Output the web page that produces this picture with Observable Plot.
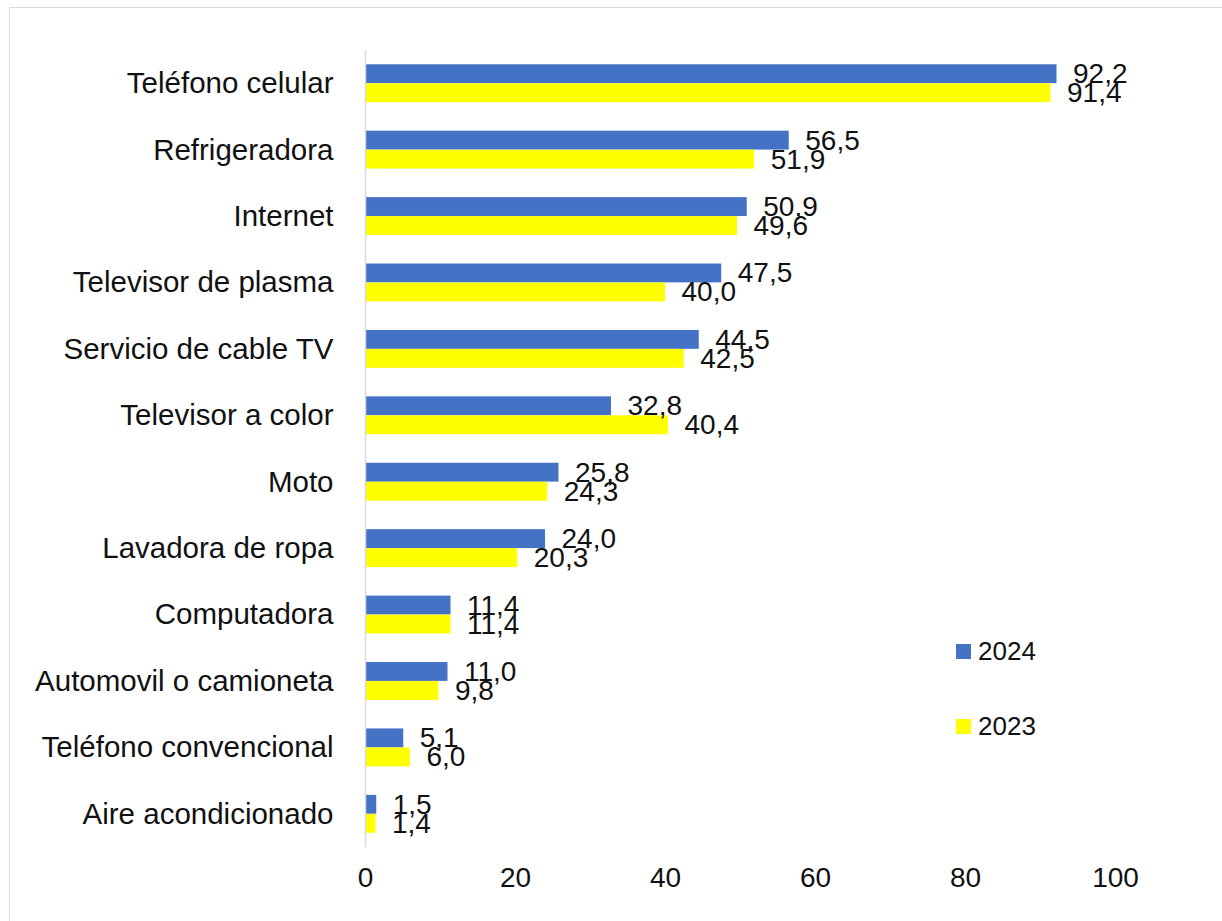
<!DOCTYPE html>
<html>
<head>
<meta charset="utf-8">
<script src="https://cdn.jsdelivr.net/npm/d3@7"></script>
<script src="https://cdn.jsdelivr.net/npm/@observablehq/plot@0.6"></script>
<style>
  html, body { margin: 0; padding: 0; background: #fff; overflow: hidden; }
  #wrap { position: relative; width: 1222px; height: 921px; overflow: hidden; }
  #border { position: absolute; left: 9px; top: 7px; width: 1400px; height: 1100px; border: 1px solid #d9d9d9; box-sizing: border-box; }
  #chart { position: absolute; left: 0; top: 0; }
  .leg { position: absolute; left: 956px; font-family: "Liberation Sans", Arial, sans-serif; font-size: 26px; color: #111; display: flex; align-items: center; }
  .leg span.sw { display: inline-block; width: 15px; height: 15px; margin-right: 7px; }
</style>
</head>
<body>
<div id="wrap">
  <div id="border"></div>
  <div id="chart"></div>
  <div class="leg" style="top:636px"><span class="sw" style="background:#4472C4"></span>2024</div>
  <div class="leg" style="top:711px"><span class="sw" style="background:#FFFF00"></span>2023</div>
</div>
<script>
const categories = [
  "Teléfono celular", "Refrigeradora", "Internet", "Televisor de plasma",
  "Servicio de cable TV", "Televisor a color", "Moto", "Lavadora de ropa",
  "Computadora", "Automovil o camioneta", "Teléfono convencional", "Aire acondicionado"
];
const values2024 = [92.2, 56.5, 50.9, 47.5, 44.5, 32.8, 25.8, 24.0, 11.4, 11.0, 5.1, 1.5];
const values2023 = [91.4, 51.9, 49.6, 40.0, 42.5, 40.4, 24.3, 20.3, 11.4, 9.8, 6.0, 1.4];
const xTicks = [0, 20, 40, 60, 80, 100];

const d24 = categories.map((c, i) => ({category: c, value: values2024[i]}));
const d23 = categories.map((c, i) => ({category: c, value: values2023[i]}));
const fmt = v => v.toFixed(1).replace(".", ",");
const font = "Liberation Sans, Arial, sans-serif";

const chart = Plot.plot({
  width: 1222,
  height: 921,
  marginLeft: 365,
  marginRight: 107,
  marginTop: 50,
  marginBottom: 74,
  style: {fontFamily: font, fontSize: "28px", color: "#111", background: "transparent"},
  x: {domain: [0, 100]},
  y: {domain: categories, paddingInner: 0.43, paddingOuter: 0.215, round: false},
  marks: [
    Plot.barX(d24, {x: "value", y: "category", fill: "#4472C4", insetBottom: 19}),
    Plot.barX(d23, {x: "value", y: "category", fill: "#FFFF00", insetTop: 19}),
    Plot.ruleX([0], {stroke: "#d9d9d9", strokeWidth: 1.5}),
    Plot.text(d24, {x: "value", y: "category", text: d => fmt(d.value), textAnchor: "start", dx: 16, dy: -9.5, fontSize: 28, fill: "#111"}),
    Plot.text(d23, {x: "value", y: "category", text: d => fmt(d.value), textAnchor: "start", dx: 16, dy: 9.5, fontSize: 28, fill: "#111"}),
    Plot.axisY({tickSize: 0, tickPadding: 32, fontSize: 29.5, label: null, fill: "#111"}),
    Plot.axisX({ticks: xTicks, tickSize: 0, tickPadding: 20, fontSize: 28, label: null, fill: "#111", tickFormat: d => String(d)})
  ]
});
document.getElementById("chart").appendChild(chart);
</script>
</body>
</html>
